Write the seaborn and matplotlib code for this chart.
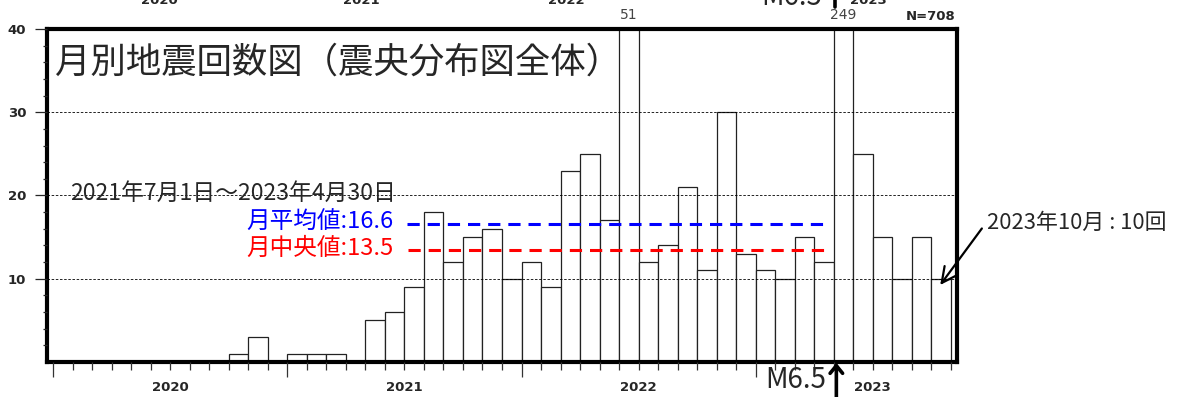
import numpy as np
import pandas as pd
import matplotlib
matplotlib.use("Agg")
import matplotlib.pyplot as plt
import seaborn as sns

# Monthly earthquake counts, Jan 2020 - Oct 2023
months = pd.period_range("2020-01", "2023-10", freq="M").strftime("%Y-%m").tolist()
counts_2020 = [0, 0, 0, 0, 0, 0, 0, 0, 0, 1, 3, 0]
counts_2021 = [1, 1, 1, 0, 5, 6, 9, 18, 12, 15, 16, 10]
counts_2022 = [12, 9, 23, 25, 17, 51, 12, 14, 21, 11, 30, 13]
counts_2023 = [11, 10, 15, 12, 249, 25, 15, 10, 15, 10]
counts = counts_2020 + counts_2021 + counts_2022 + counts_2023
years = ["2020", "2021", "2022", "2023"]

# statistics window: 2021-07 .. 2023-04
stat_start, stat_end = months.index("2021-07"), months.index("2023-04")
window = np.array(counts[stat_start:stat_end + 1])
mean_val = window.mean()
median_val = np.median(window)
total = sum(counts)

title = "月別地震回数図（震央分布図全体）"
period_label = "2021年7月1日～2023年4月30日"
latest_label = f"2023年10月 : {counts[-1]}回"
event_label = "M6.5"
event_pos = months.index("2023-05") + 4 / 31  # 5 May 2023

W, H = 1179, 397
sns.set_style("white")
plt.rcParams["font.family"] = ["Noto Sans CJK JP", "DejaVu Sans"]

fig = plt.figure(figsize=(W / 100, H / 100), dpi=100)
ax = fig.add_axes([47 / W, (H - 362) / H, 910 / W, 333 / H])

df = pd.DataFrame({"month": months, "count": counts})
sns.barplot(data=df, x="month", y="count", order=months, color="white",
            saturation=1, edgecolor="#222222", linewidth=0.9, width=1.0,
            errorbar=None, ax=ax)

n = len(months)
ax.set_xlim(-0.5 - 0.31, n - 0.5 + 0.31)
ax.set_ylim(0, 40)
ax.set_xlabel("")
ax.set_ylabel("")

# spines
for s in ax.spines.values():
    s.set_visible(True)
    s.set_linewidth(3.0)
    s.set_color("black")

# x ticks: month boundaries, longer at year starts
bounds = np.arange(n + 1) - 0.5
ax.set_xticks(bounds[::12])
ax.set_xticklabels([""] * len(bounds[::12]))
ax.set_xticks(bounds, minor=True)
ax.tick_params(axis="x", which="major", direction="out", length=11, width=0.9,
               color="#333333", bottom=True)
ax.tick_params(axis="x", which="minor", direction="out", length=6, width=0.9,
               color="#333333", bottom=True)
for i, y in enumerate(years):
    ax.text(i * 12 + 5.5, -0.078, y, transform=ax.get_xaxis_transform(),
            ha="center", va="center", fontsize=9.5, fontweight="bold",
            family="DejaVu Sans")

# y ticks
ax.set_yticks([10, 20, 30, 40])
ax.set_yticks(np.arange(2, 40, 2), minor=True)
ax.tick_params(axis="y", which="major", direction="out", length=9, width=0.9,
               pad=6, left=True, labelsize=9.5)
ax.tick_params(axis="y", which="minor", direction="out", length=3, width=0.9,
               left=True)
for lab in ax.get_yticklabels():
    lab.set_fontweight("bold")
    lab.set_family("DejaVu Sans")

# dashed grid drawn over the bars
ax.grid(axis="y", which="major", color="black", linestyle=(0, (3, 2)), linewidth=0.6)
ax.grid(axis="x", visible=False)
ax.set_axisbelow(False)

# values of bars that exceed the axis
for i, c in enumerate(counts):
    if c > 40:
        ax.text(i, 40.9, str(c), ha="center", va="bottom", fontsize=10,
                color="#444444", family="DejaVu Sans", clip_on=False)

ax.text(n - 0.5 + 0.25, 40.7, f"N={total}", ha="right", va="bottom",
        fontsize=9.5, fontweight="bold", family="DejaVu Sans", clip_on=False)

# mean / median lines
ax.hlines(mean_val, 17.65, 39.1, colors="#0000ff", linestyles=(0, (4, 2.6)),
          linewidth=2.2, zorder=4)
ax.hlines(median_val, 17.7, 39.2, colors="#ff0000", linestyles=(0, (4, 2.6)),
          linewidth=2.2, zorder=4)
ax.text(16.92, mean_val + 0.15, f"月平均値:{mean_val:.1f}", ha="right",
        va="center", fontsize=17, color="#0000ff")
ax.text(16.92, median_val + 0.15, f"月中央値:{median_val:.1f}", ha="right",
        va="center", fontsize=17, color="#ff0000")

ax.text(0.37, 20.3, period_label, ha="left", va="center", fontsize=16.5)
ax.text(8 / 910, 0.9, title, transform=ax.transAxes, fontsize=25.5,
        ha="left", va="center")

# latest month annotation
ax.annotate(latest_label, xy=(n - 1 - 0.05, counts[-1] - 0.75),
            xytext=(47.36, 16.7), ha="left", va="center", fontsize=15.8,
            annotation_clip=False,
            arrowprops=dict(arrowstyle="->,head_length=0.7,head_width=0.35",
                            lw=1.6, color="black", shrinkA=0, shrinkB=0,
                            relpos=(-0.03, 0.25)))

# M6.5 event marker below the axis
ax.annotate("", xy=(event_pos - 0.5, -0.1), xytext=(event_pos - 0.5, -5),
            annotation_clip=False,
            arrowprops=dict(arrowstyle="->,head_length=0.55,head_width=0.45",
                            lw=2.6, color="black", shrinkA=0, shrinkB=0))
fig.text(826 / W, 1 - 388 / H, event_label, ha="right", va="baseline",
         fontsize=20)

# partial labels belonging to the panel above
for x, y, t in [(159, 3.5, "2020"), (361, 3.5, "2021"), (566, 3.5, "2022"),
                (868, 4.5, "2023")]:
    fig.text(x / W, 1 - y / H, t, ha="center", va="baseline", fontsize=9.5,
             fontweight="bold", family="DejaVu Sans")
fig.text(822 / W, 1 - 5 / H, event_label, ha="right", va="baseline", fontsize=20)
fig.add_artist(plt.Line2D([835 / W, 835 / W], [1.0, 1 - 7 / H], lw=2.6,
                          color="black", transform=fig.transFigure))

fig.savefig("out.png", dpi=100)
